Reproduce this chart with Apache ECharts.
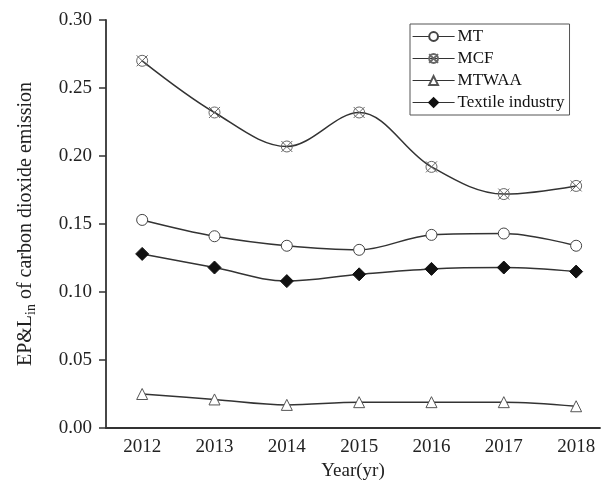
<!DOCTYPE html>
<html>
<head>
<meta charset="utf-8">
<script src="https://cdn.jsdelivr.net/npm/echarts@6/dist/echarts.min.js"></script>
<style>
  html, body { margin: 0; padding: 0; background: #fff; }
  #chart { width: 602px; height: 486px; }
</style>
</head>
<body>
<div id="chart"></div>
<script>
// Years on the horizontal axis
var years = [2012, 2013, 2014, 2015, 2016, 2017, 2018];
// Y tick values
var yTicks = [0.00, 0.05, 0.10, 0.15, 0.20, 0.25, 0.30];

// Series values
var mt      = [0.153, 0.141, 0.134, 0.131, 0.142, 0.143, 0.134];
var mcf     = [0.270, 0.232, 0.207, 0.232, 0.192, 0.172, 0.178];
var mtwaa   = [0.025, 0.021, 0.017, 0.019, 0.019, 0.019, 0.016];
var textile = [0.128, 0.118, 0.108, 0.113, 0.117, 0.118, 0.115];

var seriesNames = ['MT', 'MCF', 'MTWAA', 'Textile industry'];

function pairs(vals) {
  return years.map(function (y, i) { return [y, vals[i]]; });
}

// circle with a cross through it
var crossCircle = 'path://M0,0 L10,10 M10,0 L0,10 M10,5 A5,5 0 1 1 0,5 A5,5 0 1 1 10,5 Z';

var serif = '"Liberation Serif", "DejaVu Serif", serif';
var lineColor = '#333';

function lineSeries(name, vals, symbol, size, fill, border) {
  return {
    name: name,
    type: 'line',
    data: pairs(vals),
    smooth: 0.35,
    symbol: symbol,
    symbolSize: size,
    showAllSymbol: true,
    lineStyle: { color: lineColor, width: 1.5 },
    itemStyle: { color: fill, borderColor: border, borderWidth: 1 },
    emphasis: { disabled: true },
    z: 3
  };
}

var chart = echarts.init(document.getElementById('chart'), null, { renderer: 'canvas' });

chart.setOption({
  animation: false,
  backgroundColor: '#fff',
  grid: { left: 106, top: 20, right: 2, bottom: 58, containLabel: false, outerBoundsMode: 'none' },
  legend: {
    orient: 'vertical',
    left: 410,
    top: 24,
    width: 160,
    padding: [4, 5, 4, 2],
    itemWidth: 42,
    itemHeight: 11,
    itemGap: 5,
    borderColor: '#555',
    borderWidth: 1,
    lineStyle: { width: 1.2 },
    textStyle: { fontFamily: serif, fontSize: 17, color: '#111', padding: [0, 0, 0, -2] },
    data: seriesNames
  },
  xAxis: {
    type: 'value',
    min: 2011.5,
    max: 2018.33,
    name: 'Year(yr)',
    nameLocation: 'middle',
    nameGap: 34,
    nameTextStyle: { fontFamily: serif, fontSize: 19, color: '#222' },
    splitLine: { show: false },
    axisLine: { show: true, lineStyle: { color: '#333', width: 1.8 } },
    axisTick: { show: false },
    axisLabel: {
      customValues: years,
      fontFamily: serif,
      fontSize: 19,
      color: '#222',
      margin: 10,
      formatter: function (v) { return String(v); }
    }
  },
  yAxis: {
    type: 'value',
    min: 0,
    max: 0.30,
    interval: 0.05,
    name: '{a|EP&L}{s|in}{a| of carbon dioxide emission}',
    nameLocation: 'middle',
    nameGap: 68,
    nameRotate: 90,
    nameTextStyle: {
      color: '#222',
      rich: {
        a: { fontFamily: serif, fontSize: 20, color: '#222' },
        s: { fontFamily: serif, fontSize: 14, color: '#222', verticalAlign: 'bottom', padding: [10, 0, 0, 0] }
      }
    },
    splitLine: { show: false },
    axisLine: { show: true, lineStyle: { color: '#333', width: 1.8 } },
    axisTick: { show: true, inside: false, length: 7, lineStyle: { color: '#333', width: 1.5 } },
    axisLabel: {
      customValues: yTicks,
      fontFamily: serif,
      fontSize: 19,
      color: '#222',
      margin: 14,
      formatter: function (v) { return v.toFixed(2); }
    }
  },
  series: [
    lineSeries('MT', mt, 'circle', 11, '#fff', '#444'),
    lineSeries('MCF', mcf, crossCircle, 11, 'rgba(0,0,0,0)', '#666'),
    lineSeries('MTWAA', mtwaa, 'triangle', 11, '#fff', '#555'),
    lineSeries('Textile industry', textile, 'diamond', 13, '#111', '#111')
  ]
});
</script>
</body>
</html>
